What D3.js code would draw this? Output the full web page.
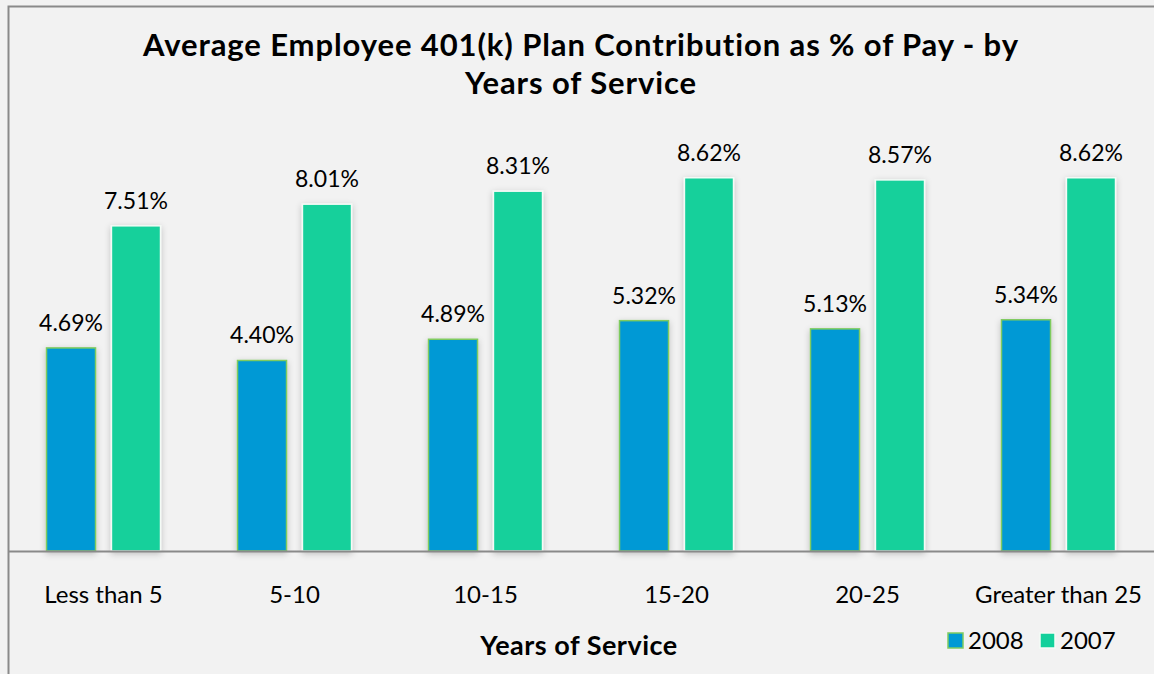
<!DOCTYPE html>
<html>
<head>
<meta charset="utf-8">
<script src="https://cdn.jsdelivr.net/npm/d3@7"></script>
<style>
  html, body { margin: 0; padding: 0; background: #f2f2f2; }
  svg { display: block; }
  text { font-family: "Lato", "Open Sans", sans-serif; fill: #000; }
</style>
</head>
<body>
<svg id="chart" width="1154" height="674"></svg>
<script>
// Average employee 401(k) contribution (% of pay) by years of service
const categories = ["Less than 5", "5-10", "10-15", "15-20", "20-25", "Greater than 25"];
const seriesNames = ["2008", "2007"];
const values2008 = [4.69, 4.40, 4.89, 5.32, 5.13, 5.34];
const values2007 = [7.51, 8.01, 8.31, 8.62, 8.57, 8.62];
const titleLines = ["Average Employee 401(k) Plan Contribution as % of Pay - by", "Years of Service"];
const axisTitle = "Years of Service";

const W = 1154, H = 674;
const svg = d3.select("#chart");

const colors = { "2008": "#0099d5", "2007": "#12d09b" };
const strokes = { "2008": "#7fcb5f", "2007": "#f4fbf6" };

// soft shadow behind each bar
const defs = svg.append("defs");
const f = defs.append("filter").attr("id", "shadow")
  .attr("x", "-40%").attr("y", "-20%").attr("width", "180%").attr("height", "140%");
f.append("feDropShadow").attr("dx", 0).attr("dy", 2).attr("stdDeviation", 3)
  .attr("flood-color", "#000").attr("flood-opacity", 0.22);

// chart frame
svg.append("rect").attr("width", W).attr("height", H).attr("fill", "#f2f2f2");
svg.append("path").attr("d", `M8.5,${H} V6.5 H${W}`)
  .attr("fill", "none").attr("stroke", "#8a8a8a").attr("stroke-width", 2);

const plotLeft = 8, plotRight = W, baseline = 551;
const x = d3.scaleBand().domain(categories).range([plotLeft, plotRight]).padding(0);
const y = d3.scaleLinear().domain([0, 10]).range([baseline, baseline - 433]);
const xs = d3.scaleBand().domain(seriesNames).range([-57, 57]).paddingInner(0.245);

const rows = categories.map((c, i) => ({ cat: c, vals: [
  { key: "2008", v: values2008[i] },
  { key: "2007", v: values2007[i] }
]}));

const groups = svg.append("g").selectAll("g").data(rows).join("g")
  .attr("transform", d => `translate(${x(d.cat) + x.bandwidth() / 2},0)`);

groups.selectAll("rect").data(d => d.vals).join("rect")
  .attr("x", d => xs(d.key))
  .attr("y", d => y(d.v))
  .attr("width", xs.bandwidth())
  .attr("height", d => y(0) - y(d.v))
  .attr("fill", d => colors[d.key])
  .attr("stroke", d => strokes[d.key])
  .attr("stroke-width", 1.5)
  .attr("filter", "url(#shadow)");

groups.selectAll("text.val").data(d => d.vals).join("text")
  .attr("class", "val")
  .attr("x", d => xs(d.key) + xs.bandwidth() / 2)
  .attr("y", d => y(d.v) - 17)
  .attr("text-anchor", "middle")
  .style("font-size", "23px")
  .text(d => d.v.toFixed(2) + "%");

// category axis
const xAxis = d3.axisBottom(x).tickSize(0).tickPadding(0);
const ax = svg.append("g").attr("transform", `translate(0,${baseline})`).call(xAxis);
ax.select(".domain").attr("stroke", "#8a8a8a").attr("stroke-width", 2)
  .attr("d", `M${plotLeft},0.5H${plotRight}`);
ax.selectAll(".tick text").attr("dy", 0).attr("y", 52)
  .style("font-size", "24px").style("font-family", "Lato, sans-serif").attr("fill", "#000");

// title
svg.append("text").attr("x", 581).attr("text-anchor", "middle")
  .style("font-size", "31px").style("font-weight", "bold").style("letter-spacing", "0.9px")
  .selectAll("tspan").data(titleLines).join("tspan")
  .attr("x", 581).attr("y", (d, i) => 56 + i * 38).text(d => d);

// axis title
svg.append("text").attr("x", 579).attr("y", 655).attr("text-anchor", "middle")
  .style("font-size", "27px").style("font-weight", "bold").style("letter-spacing", "0.5px")
  .text(axisTitle);

// legend
const leg = svg.append("g").attr("transform", "translate(948,633)");
const li = leg.selectAll("g").data(seriesNames).join("g")
  .attr("transform", (d, i) => `translate(${i * 92},0)`);
li.append("rect").attr("width", 15).attr("height", 15)
  .attr("fill", d => colors[d]).attr("stroke", d => strokes[d]).attr("stroke-width", 1.5);
li.append("text").attr("x", 20).attr("y", 15.5).style("font-size", "24px").text(d => d);
</script>
</body>
</html>
